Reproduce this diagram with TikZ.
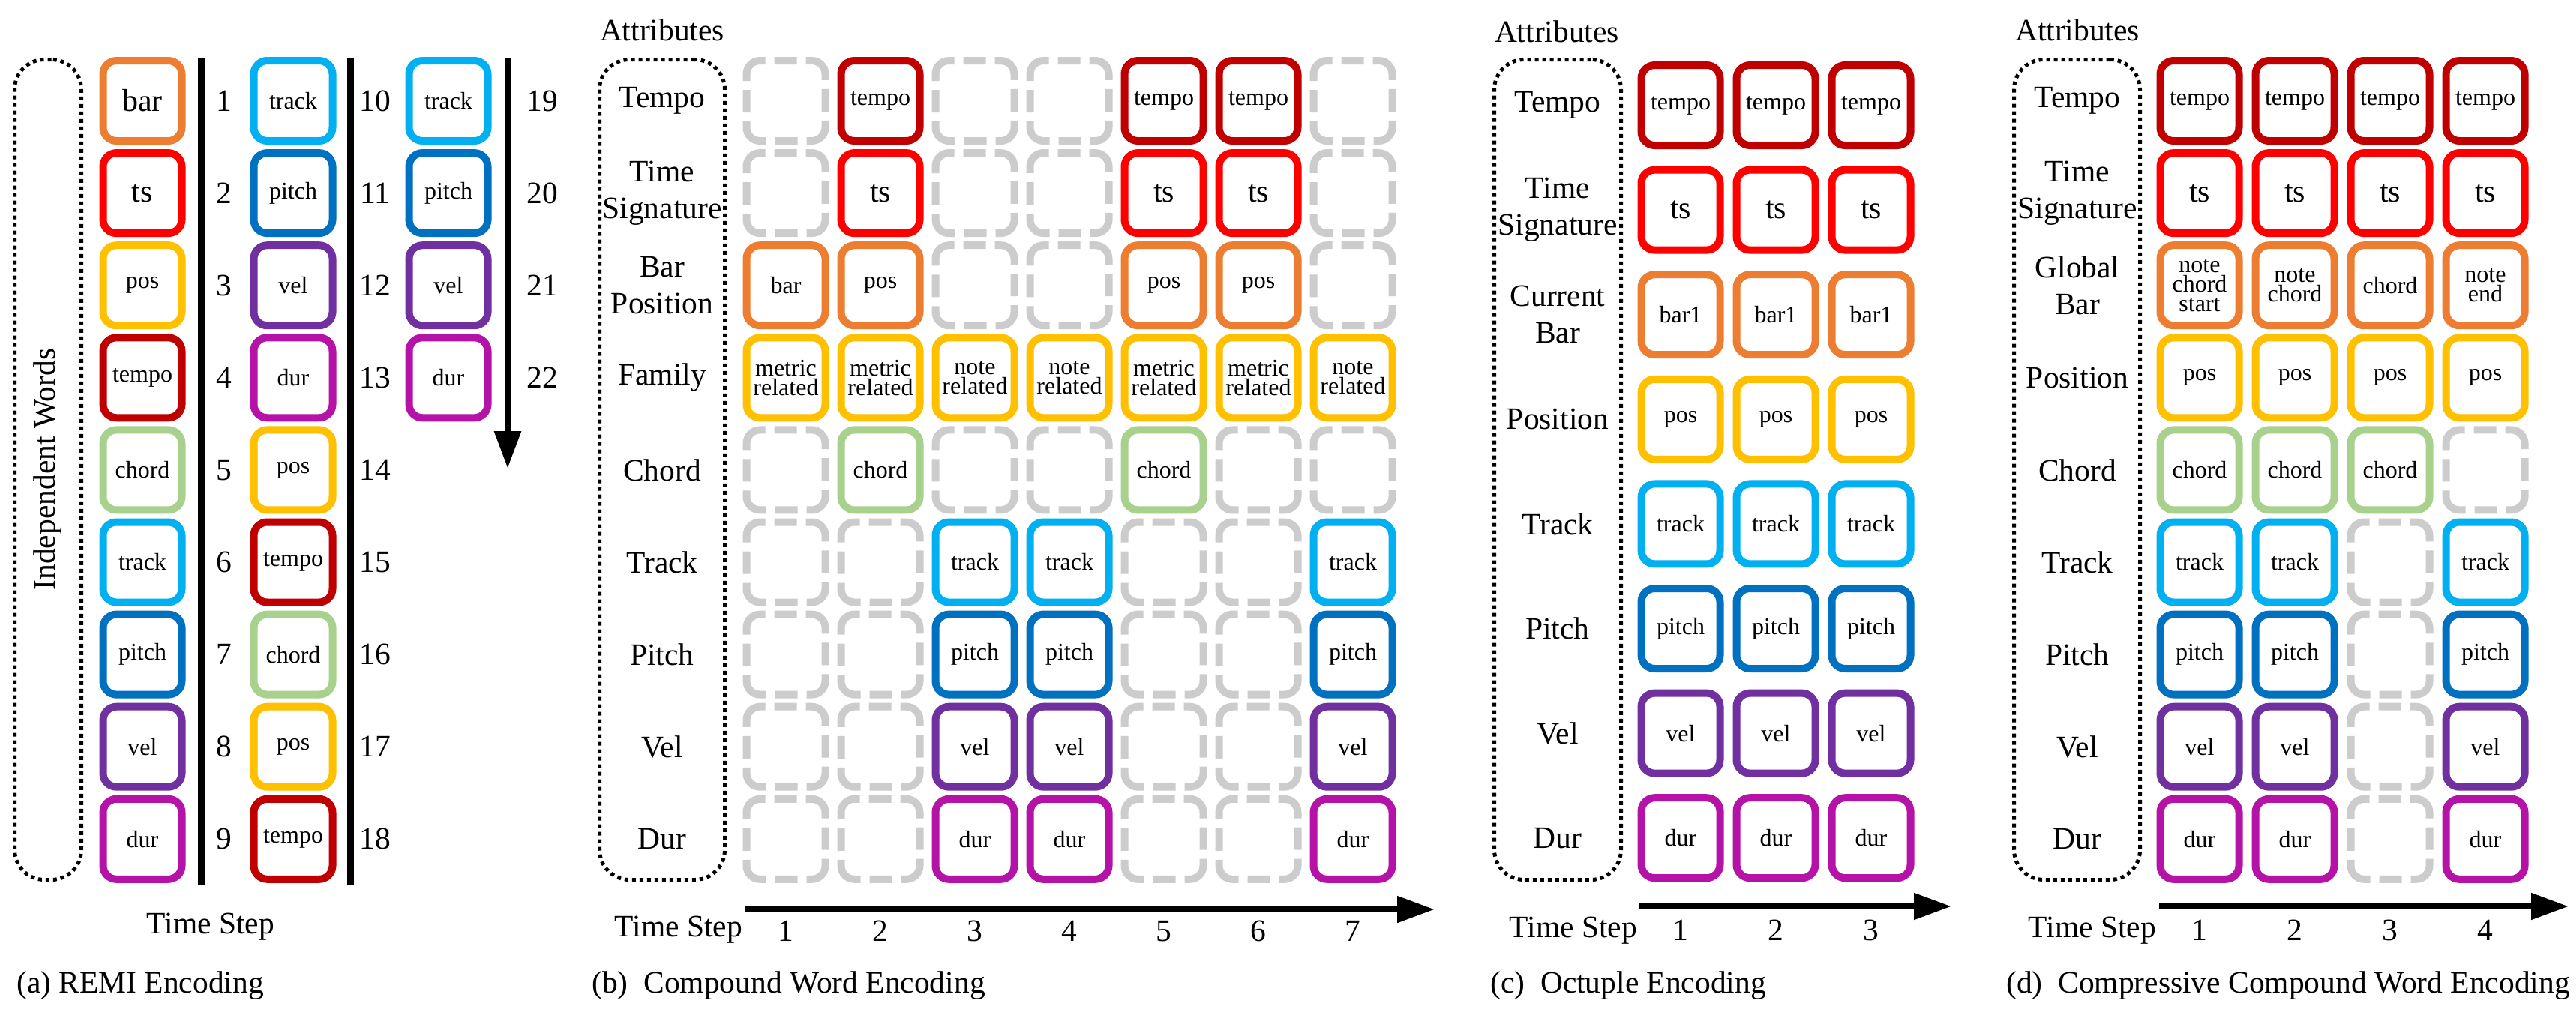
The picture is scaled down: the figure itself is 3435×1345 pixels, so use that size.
\documentclass[tikz,border=0pt]{standalone}
\usepackage{fontspec}
\setmainfont{Liberation Serif}
\usetikzlibrary{arrows.meta}
\definecolor{cTempo}{HTML}{C00000}
\definecolor{cTs}{HTML}{FF0000}
\definecolor{cBar}{HTML}{ED7D31}
\definecolor{cPos}{HTML}{FFC000}
\definecolor{cChord}{HTML}{A9D18E}
\definecolor{cTrack}{HTML}{00B0F0}
\definecolor{cPitch}{HTML}{0070C0}
\definecolor{cVel}{HTML}{7030A0}
\definecolor{cDur}{RGB}{181,18,168}
\definecolor{cGray}{HTML}{CCCCCC}
\newcommand\fbig{\fontsize{41.5}{49}\selectfont}
\newcommand\fsm{\fontsize{32}{26}\selectfont}
\newcommand\fts{\fontsize{42}{48}\selectfont}
\newcommand\deftx[2]{\expandafter\def\csname tx@#1\endcsname{#2}}
\deftx{G}{}
\deftx{tempo}{tempo}
\deftx{ts}{ts}
\deftx{barA}{bar}
\deftx{bar}{bar}
\deftx{posO}{pos}
\deftx{pos}{pos}
\deftx{metric}{metric\\related}
\deftx{note}{note\\related}
\deftx{chord}{chord}
\deftx{track}{track}
\deftx{pitch}{pitch}
\deftx{vel}{vel}
\deftx{dur}{dur}
\deftx{barone}{bar1}
\deftx{ncs}{note\\chord\\start}
\deftx{nc}{note\\chord}
\deftx{chO}{chord}
\deftx{ne}{note\\end}
\tikzset{
  tokbase/.style={line width=10pt, rounded corners=18pt, minimum width=105pt,
    minimum height=107pt, inner sep=0pt, align=center, font=\fsm},
  tok/.style={tokbase, draw=#1},
  tokgray/.style={tokbase, draw=cGray,
    dash pattern=on 44.3pt off 12pt on 30pt off 12pt, dash phase=36.3pt},
  cell/G/.style={tokgray},
  cell/tempo/.style={tok=cTempo},
  cell/ts/.style={tok=cTs, font=\fts},
  cell/barA/.style={tok=cBar, font=\fts},
  cell/bar/.style={tok=cBar},
  cell/posO/.style={tok=cBar},
  cell/pos/.style={tok=cPos},
  cell/metric/.style={tok=cPos},
  cell/note/.style={tok=cPos},
  cell/chord/.style={tok=cChord},
  cell/track/.style={tok=cTrack},
  cell/pitch/.style={tok=cPitch},
  cell/vel/.style={tok=cVel},
  cell/dur/.style={tok=cDur},
  cell/barone/.style={tok=cBar},
  cell/ncs/.style={tok=cBar},
  cell/nc/.style={tok=cBar},
  cell/chO/.style={tok=cBar},
  cell/ne/.style={tok=cBar},
  dotbox/.style={draw=black, line width=5pt, dash pattern=on 5pt off 5pt,
    rounded corners=40pt, inner sep=0pt, minimum height=1094pt},
  lbl/.style={font=\fbig, align=center, inner sep=0pt},
  captxt/.style={font=\fbig, anchor=west, inner sep=0pt},
  timeline/.style={line width=8pt, -{Triangle[length=50pt,width=34pt]}},
  vline/.style={line width=9pt},
}
\begin{document}
\begin{tikzpicture}[x=1pt,y=-1pt]
\useasboundingbox (0,0) rectangle (3435,1345);
\fill[white] (0,0) rectangle (3435,1345);

% ---------------- (a) REMI ----------------
\node[dotbox, minimum width=89pt] (adot) at (64,626.5) {};
\node[lbl, rotate=90] (aind) at (64,626) {Independent Words};
\foreach \kd [count=\r from 0] in {barA,ts,pos,tempo,chord,track,pitch,vel,dur}
  \node[cell/\kd] (aA\r) at (190,{134.5+123.1*\r}) {\csname tx@\kd\endcsname};
\foreach \kd [count=\r from 0] in {track,pitch,vel,dur,pos,tempo,chord,pos,tempo}
  \node[cell/\kd] (aB\r) at (391,{134.5+123.1*\r}) {\csname tx@\kd\endcsname};
\foreach \kd [count=\r from 0] in {track,pitch,vel,dur}
  \node[cell/\kd] (aC\r) at (598,{134.5+123.1*\r}) {\csname tx@\kd\endcsname};
\foreach \r in {0,...,8}{
  \node[lbl] (anA\r) at (299,{134.5+123.1*\r}) {\number\numexpr\r+1\relax};
  \node[lbl] (anB\r) at (500,{134.5+123.1*\r}) {\number\numexpr\r+10\relax};
}
\foreach \r in {0,...,3}
  \node[lbl] (anC\r) at (723,{134.5+123.1*\r}) {\number\numexpr\r+19\relax};
\coordinate (al1t) at (268,77);  \coordinate (al1b) at (268,1181);
\coordinate (al2t) at (467,77);  \coordinate (al2b) at (467,1181);
\coordinate (aart) at (677,77);  \coordinate (aarb) at (677,625);
\draw[vline] (al1t) -- (al1b);
\draw[vline] (al2t) -- (al2b);
\draw[timeline, line width=9pt] (aart) -- (aarb);
\node[lbl] (ats) at (281,1236) {Time Step};
\node[captxt] (acap) at (22,1315) {(a) REMI Encoding};

% ---------------- (b) Compound Word ----------------
\node[lbl] (batt) at (883,40) {Attributes};
\node[dotbox, minimum width=167pt] (bdot) at (883,626.5) {};
\foreach \lab [count=\r from 0] in {Tempo,{Time\\Signature},{Bar\\Position},Family,Chord,Track,Pitch,Vel,Dur}
  \node[lbl] (bl\r) at (883,{134.5+123.1*\r}) {\lab};
\foreach \r/\items in {
  0/{G,tempo,G,G,tempo,tempo,G},
  1/{G,ts,G,G,ts,ts,G},
  2/{bar,posO,G,G,posO,posO,G},
  3/{metric,metric,note,note,metric,metric,note},
  4/{G,chord,G,G,chord,G,G},
  5/{G,G,track,track,G,G,track},
  6/{G,G,pitch,pitch,G,G,pitch},
  7/{G,G,vel,vel,G,G,vel},
  8/{G,G,dur,dur,G,G,dur}}{
  \foreach \kd [count=\c from 0] in \items
    \node[cell/\kd] (b\r-\c) at ({1048+126*\c},{134.5+123.1*\r}) {\csname tx@\kd\endcsname};
}
\coordinate (bars) at (994,1213); \coordinate (bare) at (1913,1213);
\draw[timeline] (bars) -- (bare);
\node[lbl] (bts) at (905,1240) {Time Step};
\foreach \c in {0,...,6}
  \node[lbl] (bn\c) at ({1048+126*\c},1242) {\number\numexpr\c+1\relax};
\node[captxt] (bcap) at (789,1315) {(b)\enspace Compound Word Encoding};

% ---------------- (c) Octuple ----------------
\node[lbl] (catt) at (2076,42) {Attributes};
\node[dotbox, minimum width=169pt] (cdot) at (2077,626.5) {};
\foreach \lab [count=\r from 0] in {Tempo,{Time\\Signature},{Current\\Bar},Position,Track,Pitch,Vel,Dur}
  \node[lbl] (cl\r) at (2077,{140.5+139.6*\r}) {\lab};
\foreach \kd [count=\r from 0] in {tempo,ts,barone,pos,track,pitch,vel,dur}{
  \foreach \c in {0,1,2}
    \node[cell/\kd] (c\r-\c) at ({2241+127*\c},{140.5+139.6*\r}) {\csname tx@\kd\endcsname};
}
\coordinate (cars) at (2185,1209); \coordinate (care) at (2602,1209);
\draw[timeline] (cars) -- (care);
\node[lbl] (cts) at (2098,1241) {Time Step};
\foreach \c in {0,1,2}
  \node[lbl] (cn\c) at ({2241+127*\c},1241) {\number\numexpr\c+1\relax};
\node[captxt] (ccap) at (1987,1315) {(c)\enspace Octuple Encoding};

% ---------------- (d) Compressive Compound Word ----------------
\node[lbl] (datt) at (2770,40) {Attributes};
\node[dotbox, minimum width=168pt] (ddot) at (2769.5,626.5) {};
\foreach \lab [count=\r from 0] in {Tempo,{Time\\Signature},{Global\\Bar},Position,Chord,Track,Pitch,Vel,Dur}
  \node[lbl] (dl\r) at (2770,{134.5+123.1*\r}) {\lab};
\foreach \r/\items in {
  0/{tempo,tempo,tempo,tempo},
  1/{ts,ts,ts,ts},
  2/{ncs,nc,chO,ne},
  3/{pos,pos,pos,pos},
  4/{chord,chord,chord,G},
  5/{track,track,G,track},
  6/{pitch,pitch,G,pitch},
  7/{vel,vel,G,vel},
  8/{dur,dur,G,dur}}{
  \foreach \kd [count=\c from 0] in \items
    \node[cell/\kd] (d\r-\c) at ({2933+127*\c},{134.5+123.1*\r}) {\csname tx@\kd\endcsname};
}
\coordinate (dars) at (2879,1209); \coordinate (dare) at (3425,1209);
\draw[timeline] (dars) -- (dare);
\node[lbl] (dts) at (2790,1241) {Time Step};
\foreach \c in {0,...,3}
  \node[lbl] (dn\c) at ({2933+127*\c},1241) {\number\numexpr\c+1\relax};
\node[captxt] (dcap) at (2675,1315) {(d)\enspace Compressive Compound Word Encoding};
\end{tikzpicture}
\end{document}
